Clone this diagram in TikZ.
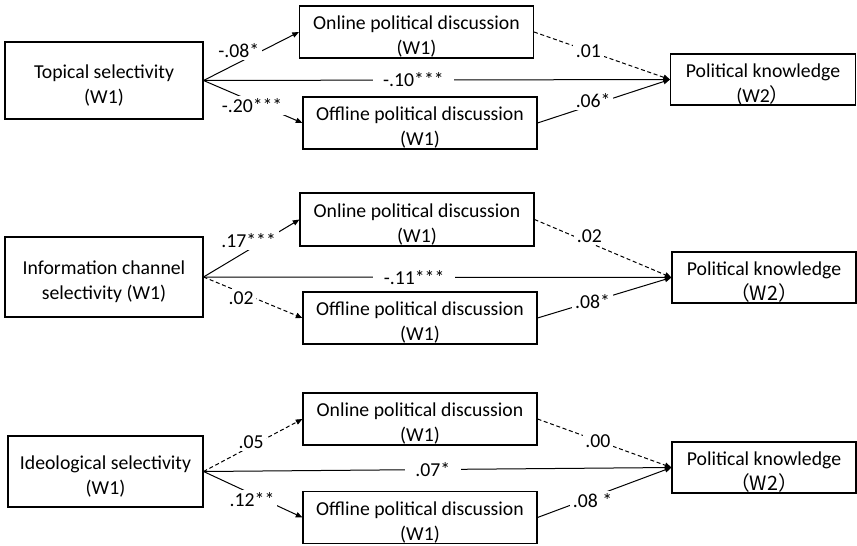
\documentclass[tikz,border=0pt]{standalone}
\usepackage{fontspec}
\setmainfont{Carlito}
\newfontfamily\cjk{Noto Sans CJK SC}
\usetikzlibrary{arrows.meta}

\begin{document}
\begin{tikzpicture}[
	x=0.75pt, y=-0.75pt,
	font=\fontsize{14.8}{18.75}\selectfont,
	var/.style={draw=black, line width=0.8pt, align=center, inner sep=2pt, fill=white, text height=34pt, text depth=0pt},
	srcbox/.style={var, minimum width=148.5pt, minimum height=57.75pt},
	medbox/.style={var, minimum width=175.5pt, minimum height=39pt},
	outbox/.style={var, minimum width=138.75pt, minimum height=38.25pt},
	ar/.style={-{Triangle[length=5pt,width=4pt]}, line width=0.75pt},
	ns/.style={ar, dash pattern=on 3pt off 2pt},
	coef/.style={fill=white, inner sep=2pt},
	mid/.style={coef, inner xsep=8pt}
	]
	\useasboundingbox (0,0) rectangle (857,546);
	\node[srcbox] (top) at (104,80.5) {Topical selectivity\\(W1)};
	\node[medbox] (on1) at (416.5,32) {Online political discussion\\(W1)};
	\node[medbox] (off1) at (420,123) {Offline political discussion\\(W1)};
	\node[outbox] (pk1) at (763,79.5) {Political knowledge\\(W2\cjk{）}};
	\draw[ar] (top.east) -- node[coef, pos=.37, yshift=9pt] {-.08*} (on1.west);
	\draw[ar] (top.east) -- node[coef, pos=.49, yshift=-3pt] {-.20***} (off1.west);
	\draw[ar] (top.east) -- node[mid, pos=.45] {-.10***} (pk1.west);
	\draw[ns] (on1.east) -- node[coef, pos=.40] {.01} (pk1.west);
	\draw[ar] (off1.east) -- node[coef, pos=.42, yshift=3pt] {.06*} (pk1.west);
	\node[srcbox, minimum height=60pt] (info) at (104,277) {Information channel\\selectivity (W1)};
	\node[medbox, minimum height=39.75pt] (on2) at (417,219.5) {Online political discussion\\(W1)};
	\node[medbox] (off2) at (420,318) {Offline political discussion\\(W1)};
	\node[outbox, minimum width=138pt] (pk2) at (764,277.5) {Political knowledge\\\cjk{（}W2\cjk{）}};
	\draw[ar] (info.east) -- node[coef, pos=.47, yshift=7pt] {.17***} (on2.west);
	\draw[ns] (info.east) -- node[coef, pos=.38, yshift=-4pt] {.02} (off2.west);
	\draw[ar] (info.east) -- node[mid, pos=.45] {-.11***} (pk2.west);
	\draw[ns] (on2.east) -- node[coef, pos=.40, yshift=5pt] {.02} (pk2.west);
	\draw[ar] (off2.east) -- node[coef, pos=.41] {.08*} (pk2.west);
	\node[srcbox, minimum width=146.25pt, minimum height=53.25pt] (ideo) at (105.5,471.5) {Ideological selectivity\\(W1)};
	\node[medbox] (on3) at (420,419) {Online political discussion\\(W1)};
	\node[medbox] (off3) at (420,517.5) {Offline political discussion\\(W1)};
	\node[outbox, minimum width=138pt] (pk3) at (764,467.5) {Political knowledge\\\cjk{（}W2\cjk{）}};
	\draw[ns] (ideo.east) -- node[coef, pos=.48, yshift=3pt] {.05} (on3.west);
	\draw[ar] (ideo.east) -- node[coef, pos=.49, yshift=-4pt] {.12**} (off3.west);
	\draw[ar] (ideo.east) -- node[mid, pos=.49] {.07*} (pk3.west);
	\draw[ns] (on3.east) -- node[coef, pos=.45] {.00} (pk3.west);
	\draw[ar] (off3.east) -- node[coef, pos=.41, yshift=-3pt] {.08 *} (pk3.west);
\end{tikzpicture}
\end{document}
